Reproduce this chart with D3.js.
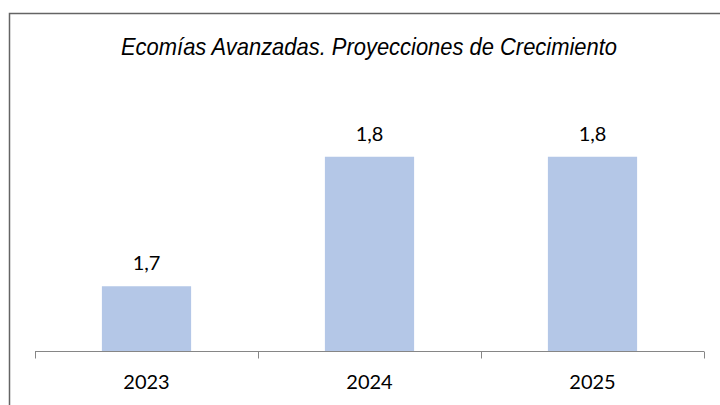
<!DOCTYPE html>
<html>
<head>
<meta charset="utf-8">
<script src="https://cdn.jsdelivr.net/npm/d3@7"></script>
<style>
  body { margin: 0; background: #fff; }
  svg { display: block; }
</style>
</head>
<body>
<div id="chart"></div>
<script>
const years = ["2023", "2024", "2025"];
const growth = [1.7, 1.8, 1.8];
const title = "Ecomías Avanzadas. Proyecciones de Crecimiento";

const width = 720;
const height = 405;
const margin = { top: 92, right: 16, bottom: 54, left: 35 };

const svg = d3.select("#chart").append("svg")
  .attr("width", width)
  .attr("height", height);

// outer frame (right and bottom edges fall outside the picture)
svg.append("rect")
  .attr("x", 9.5)
  .attr("y", 13.5)
  .attr("width", width)
  .attr("height", height)
  .attr("fill", "none")
  .attr("stroke", "#646464")
  .attr("stroke-width", 1.5);

const x = d3.scaleBand()
  .domain(years)
  .range([margin.left, width - margin.right])
  .paddingInner(0.6)
  .paddingOuter(0.3);

const y = d3.scaleLinear()
  .domain([1.65, 1.85])
  .range([height - margin.bottom, margin.top]);

// title is a bit condensed in the original
svg.append("text")
  .attr("x", 121)
  .attr("y", 55)
  .attr("font-family", "'Liberation Sans', Arial, sans-serif")
  .attr("font-style", "italic")
  .attr("font-size", 24)
  .attr("textLength", 496)
  .attr("lengthAdjust", "spacingAndGlyphs")
  .attr("fill", "#000")
  .text(title);

const data = years.map((yr, i) => ({ year: yr, value: growth[i] }));

svg.append("g")
  .selectAll("rect")
  .data(data)
  .join("rect")
  .attr("x", (d) => x(d.year))
  .attr("y", (d) => y(d.value))
  .attr("width", x.bandwidth())
  .attr("height", (d) => y(y.domain()[0]) - y(d.value))
  .attr("fill", "#B4C7E7");

svg.append("g")
  .selectAll("text")
  .data(data)
  .join("text")
  .attr("x", (d) => x(d.year) + x.bandwidth() / 2)
  .attr("y", (d) => y(d.value) - 16)
  .attr("text-anchor", "middle")
  .attr("font-family", "Lato, 'Open Sans', sans-serif")
  .attr("font-size", 20)
  .attr("fill", "#000")
  .text((d) => d3.format(".1f")(d.value).replace(".", ","));

// category axis with ticks between bands
const axisY = y(y.domain()[0]) + 0.5;
const axis = svg.append("g").attr("stroke", "#868686").attr("stroke-width", 1);
const step = x.step();
const edges = d3.range(years.length + 1).map((i) => margin.left + i * step);

axis.append("line")
  .attr("x1", edges[0])
  .attr("x2", edges[edges.length - 1])
  .attr("y1", axisY)
  .attr("y2", axisY);

axis.selectAll(".tick")
  .data(edges)
  .join("line")
  .attr("class", "tick")
  .attr("x1", (d) => Math.round(d) + 0.5)
  .attr("x2", (d) => Math.round(d) + 0.5)
  .attr("y1", axisY)
  .attr("y2", axisY + 7);

svg.append("g")
  .selectAll("text")
  .data(years)
  .join("text")
  .attr("x", (d) => x(d) + x.bandwidth() / 2)
  .attr("y", axisY + 37.5)
  .attr("text-anchor", "middle")
  .attr("font-family", "Lato, 'Open Sans', sans-serif")
  .attr("font-size", 20)
  .attr("fill", "#000")
  .text((d) => d);
</script>
</body>
</html>
